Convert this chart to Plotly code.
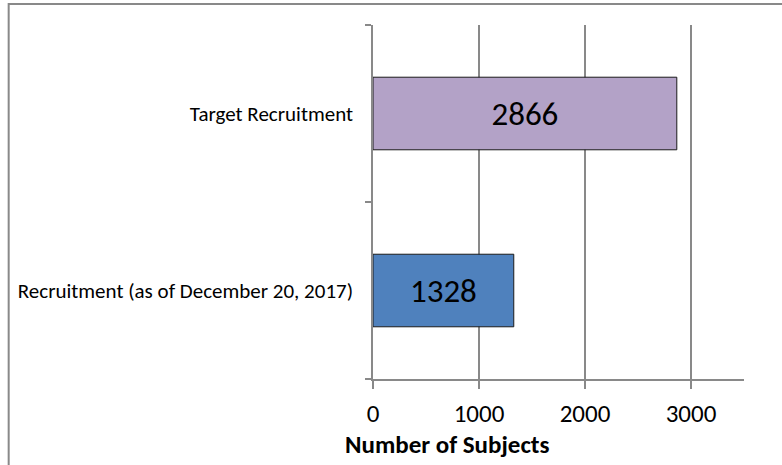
import plotly.graph_objects as go

categories = ["Recruitment (as of December 20, 2017)", "Target Recruitment"]
values = [1328, 2866]
bar_colors = ["#4F81BD", "#B3A2C7"]
x_ticks = [0, 1000, 2000, 3000]
x_title = "Number of Subjects"

FONT = "Calibri, Carlito, Lato, sans-serif"
GRAY = "#898989"

fig = go.Figure()
fig.add_trace(go.Bar(
    y=categories, x=values, orientation="h",
    marker=dict(color=bar_colors, line=dict(color="#1a1a1a", width=1)),
    text=[str(v) for v in values], textposition="inside",
    insidetextanchor="middle",
    textfont=dict(family=FONT, size=33, color="black"),
    hoverinfo="skip",
))

fig.update_layout(
    width=782, height=465,
    margin=dict(l=373, r=38, t=25, b=86),
    paper_bgcolor="white", plot_bgcolor="white",
    bargap=0.59, showlegend=False,
    font=dict(family=FONT, color="black"),
)
fig.update_xaxes(
    range=[0, 3500], tickvals=x_ticks, ticktext=[str(t) for t in x_ticks],
    showgrid=True, gridcolor=GRAY, gridwidth=1.5,
    showline=True, linecolor=GRAY, linewidth=1.5,
    ticks="outside", ticklen=8, tickcolor=GRAY, tickwidth=1.5,
    tickfont=dict(family=FONT, size=25, color="black"),
    ticklabelstandoff=3, zeroline=False, fixedrange=True,
)
fig.update_yaxes(
    categoryorder="array", categoryarray=categories,
    showline=True, linecolor=GRAY, linewidth=1.5,
    ticks="outside", tickson="boundaries", ticklen=6, tickcolor=GRAY, tickwidth=1.5,
    tickfont=dict(family=FONT, size=21, color="black"),
    ticklabelstandoff=14, showgrid=False, fixedrange=True,
)
fig.add_annotation(
    text="<b>%s</b>" % x_title, xref="paper", yref="paper",
    x=0.1995, y=-0.186, xanchor="center", yanchor="middle",
    showarrow=False, font=dict(family=FONT, size=25, color="black"),
)
fig.add_shape(
    type="rect", xref="paper", yref="paper",
    x0=-0.982, x1=1.2, y0=-0.3, y1=1.0593,
    line=dict(color=GRAY, width=2), fillcolor="rgba(0,0,0,0)", layer="below",
)
fig.write_html("out.html", config={"displayModeBar": False},
               post_script="document.body.style.margin='0';")
